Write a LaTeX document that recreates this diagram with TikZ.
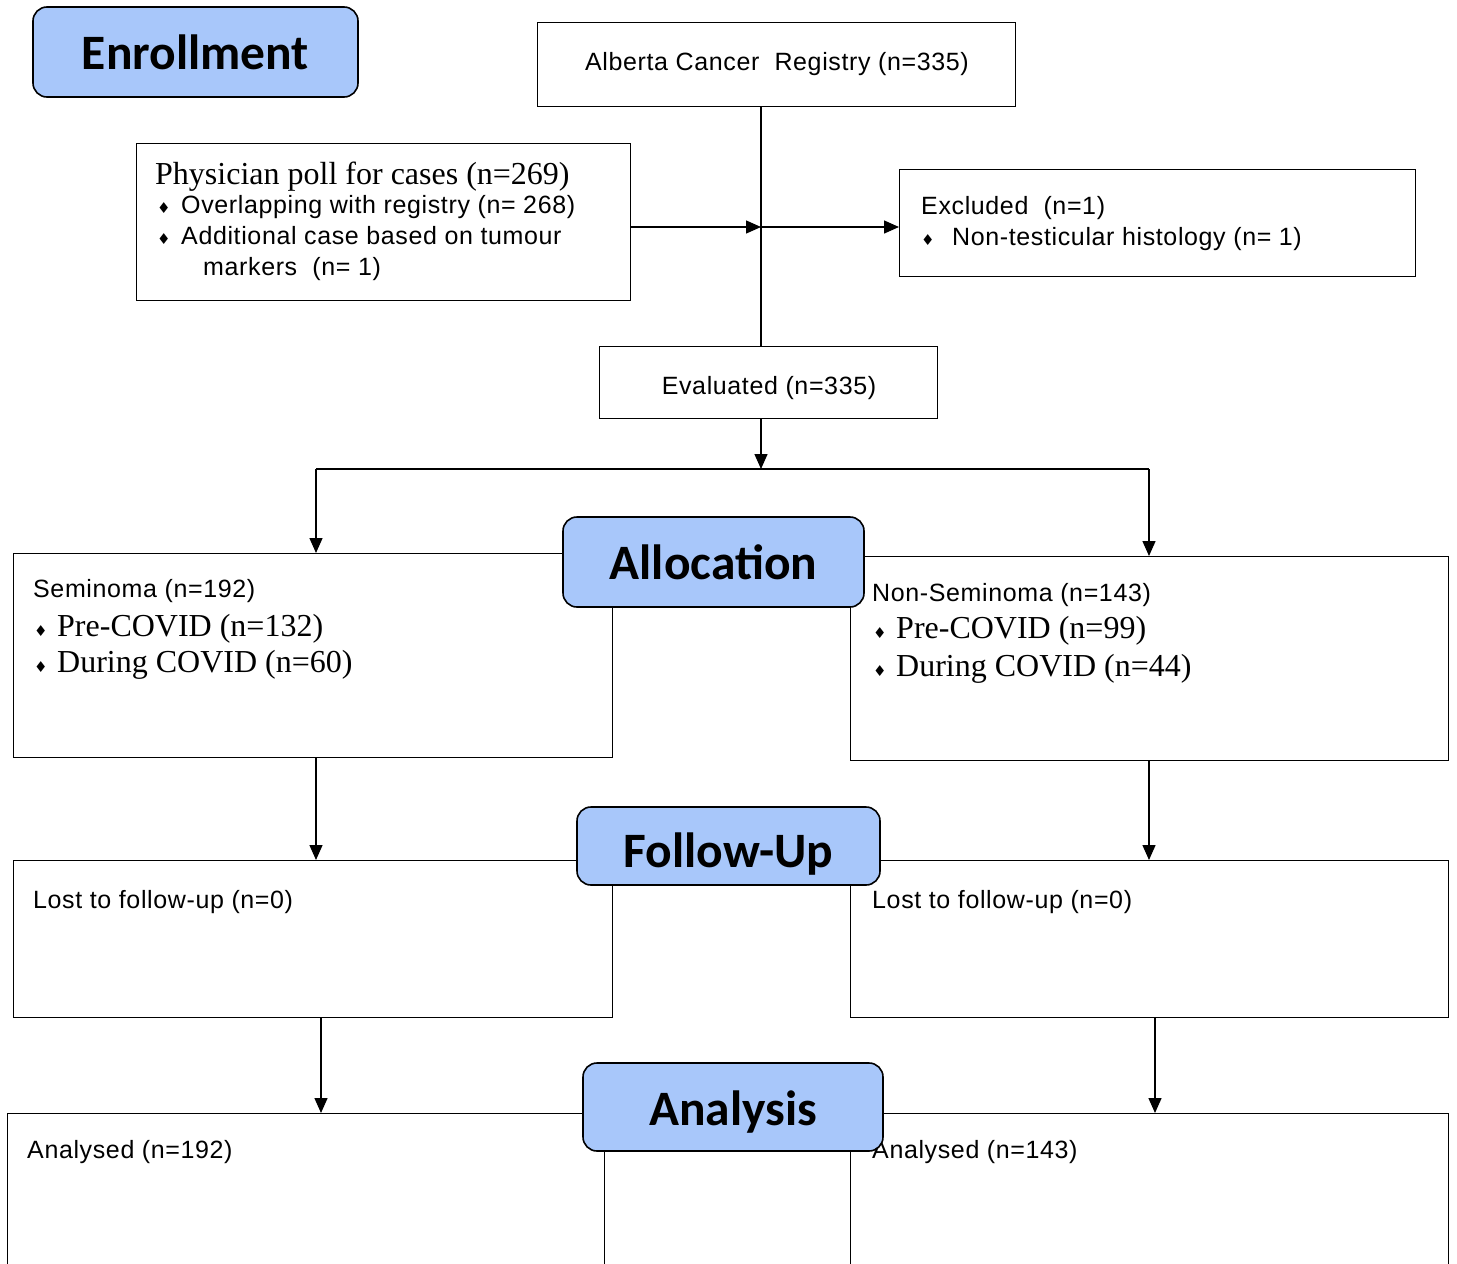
\documentclass[tikz,border=0pt]{standalone}
\usepackage{fontspec}
\setmainfont{Liberation Sans}[LetterSpace=2.5]
\newfontfamily\serifA{Liberation Serif}
\newfontfamily\headfont{Carlito}
\newfontfamily\symfont{DejaVu Sans}
\usetikzlibrary{arrows.meta}
\definecolor{headblue}{RGB}{168,199,250}
\newcommand{\dmd}{{\symfont\fontsize{15}{15}\selectfont ♦}}
\begin{document}
\begin{tikzpicture}[x=1pt,y=-1pt,
  box/.style={draw=black,line width=1.4pt,rectangle,inner sep=0pt,anchor=north west},
  head/.style={draw=black,line width=1.6pt,rounded corners=14pt,fill=headblue,inner sep=0pt,
     font=\headfont\bfseries\fontsize{49.5}{49.5}\selectfont},
  headtxt/.style={inner sep=0pt,font=\headfont\bfseries\fontsize{49.5}{49.5}\selectfont},
  txt/.style={anchor=base west,inner sep=0pt,font=\fontsize{25}{25}\selectfont},
  stxt/.style={anchor=base west,inner sep=0pt,font=\serifA\fontsize{32}{32}\selectfont},
  bul/.style={anchor=base west,inner sep=0pt},
  arr/.style={line width=1.4pt,-{Triangle[length=15pt,width=13pt]}},
  ln/.style={line width=1.4pt}]
\useasboundingbox (0,0) rectangle (1457,1264);
\clip (0,0) rectangle (1457,1264);
% boxes
\node[box,minimum width=478pt,minimum height=84pt] (reg) at (537,22) {};
\node[box,minimum width=494pt,minimum height=157pt] (phys) at (136,143) {};
\node[box,minimum width=516pt,minimum height=107pt] (excl) at (899,169) {};
\node[box,minimum width=338pt,minimum height=72pt] (eval) at (599,346) {};
\node[box,minimum width=599pt,minimum height=204pt] (sem) at (13,553) {};
\node[box,minimum width=598pt,minimum height=204pt] (nsem) at (850,556) {};
\node[box,minimum width=599pt,minimum height=157pt] (lostL) at (13,860) {};
\node[box,minimum width=598pt,minimum height=157pt] (lostR) at (850,860) {};
\node[box,minimum width=597pt,minimum height=200pt] (anaL) at (7,1113) {};
\node[box,minimum width=598pt,minimum height=200pt] (anaR) at (850,1113) {};
% coordinates
\coordinate (top) at (761,106);
\coordinate (j) at (761,227);
\coordinate (ev) at (761,346);
\coordinate (evb) at (761,418);
\coordinate (sp) at (761,469);
\coordinate (spL) at (316,469);
\coordinate (spR) at (1149,469);
% connectors
\draw[ln] (top) -- (ev);
\draw[arr] (phys.east |- j) -- (j);
\draw[arr] (j) -- (excl.west |- j);
\draw[arr] (evb) -- (sp);
\draw[ln] (spL) -- (spR);
\draw[arr] (spL) -- (sem.north -| spL);
\draw[arr] (spR) -- (nsem.north -| spR);
\draw[arr] (sem.south -| spL) -- (lostL.north -| spL);
\draw[arr] (nsem.south -| spR) -- (lostR.north -| spR);
\draw[arr] (lostL.south -| 321,0) -- (anaL.north -| 321,0);
\draw[arr] (lostR.south -| 1155,0) -- (anaR.north -| 1155,0);
% texts
\node[txt,anchor=base] (regt) at (777,70) {Alberta Cancer\ \ Registry (n=335)};
\node[stxt] (p1) at (155,184) {Physician poll for cases (n=269)};
\node[bul] (pb1) at (157,213) {\dmd};
\node[txt] (p2) at (181,213) {Overlapping with registry (n= 268)};
\node[bul] (pb2) at (157,244) {\dmd};
\node[txt] (p3) at (181,244) {Additional case based on tumour};
\node[txt] (p4) at (203,275) {markers\ \ (n= 1)};
\node[txt] (e1) at (921,214) {Excluded\ \ (n=1)};
\node[bul] (eb1) at (921,245) {\dmd};
\node[txt] (e2) at (952,245) {Non-testicular histology (n= 1)};
\node[txt,anchor=base] (evt) at (769,394) {Evaluated (n=335)};
\node[txt] (s1) at (33,597) {Seminoma (n=192)};
\node[bul] (sb1) at (34,636) {\dmd};
\node[stxt] (s2) at (57,636) {Pre-COVID (n=132)};
\node[bul] (sb2) at (34,672) {\dmd};
\node[stxt] (s3) at (57,672) {During COVID (n=60)};
\node[txt] (n1) at (872,601) {Non-Seminoma (n=143)};
\node[bul] (nb1) at (873,638) {\dmd};
\node[stxt] (n2) at (896,638) {Pre-COVID (n=99)};
\node[bul] (nb2) at (873,676) {\dmd};
\node[stxt] (n3) at (896,676) {During COVID (n=44)};
\node[txt] (l1) at (33,908) {Lost to follow-up (n=0)};
\node[txt] (l2) at (872,908) {Lost to follow-up (n=0)};
\node[txt] (a1) at (27,1158) {Analysed (n=192)};
\node[txt] (a2) at (872,1158) {Analysed (n=143)};
% headings
\node[head,minimum width=325pt,minimum height=90pt] (enr) at (195.5,52) {Enrollment};
\node[head,minimum width=301pt,minimum height=90pt] (alloc) at (713.5,562) {Allocation};
\node[head,minimum width=303pt,minimum height=78pt] (fu) at (728.5,846) {};
\node[headtxt] (fut) at (728.5,854) {Follow-Up};
\node[head,minimum width=300pt,minimum height=88pt] (an) at (733,1107) {};
\node[headtxt] (ant) at (733,1112) {Analysis};
\end{tikzpicture}
\end{document}
